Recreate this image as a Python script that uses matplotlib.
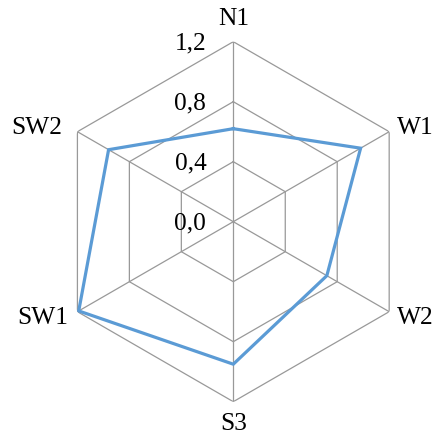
import numpy as np
import matplotlib.pyplot as plt

plt.rcParams['font.family'] = ['Liberation Serif', 'DejaVu Serif']

categories = ['N1', 'W1', 'W2', 'S3', 'SW1', 'SW2']
values = [0.62, 0.98, 0.72, 0.95, 1.19, 0.96]
rings = [0.4, 0.8, 1.2]
tick_labels = ['0,0', '0,4', '0,8', '1,2']
tick_values = [0.0, 0.4, 0.8, 1.2]

fig = plt.figure(figsize=(4.33, 4.37), dpi=100)
ax = fig.add_axes([0.1231, 0.0808, 0.8314, 0.8238], projection='polar')
ax.set_theta_zero_location('N')
ax.set_theta_direction(-1)
ax.set_ylim(0, 1.2)
ax.grid(False)
ax.spines['polar'].set_visible(False)
ax.set_xticks([])
ax.set_yticks([])
ax.patch.set_alpha(0)

theta = np.linspace(0, 2 * np.pi, len(categories), endpoint=False)
theta_c = np.append(theta, theta[0])

grid_col = '#999999'
for r in rings:
    ax.plot(theta_c, [r] * len(theta_c), color=grid_col, lw=0.9, zorder=1)
for t in theta:
    ax.plot([t, t], [0, 1.2], color=grid_col, lw=0.9, zorder=1)

ax.plot(theta_c, values + [values[0]], color='#5b9bd5', lw=2.3, zorder=3,
        solid_joinstyle='miter')

fs = 18.3
# category labels
offsets = [(0, 23, 'center'), (8, 4, 'left'), (8, -6, 'left'),
           (0, -22, 'center'), (-9, -6, 'right'), (-15, 4, 'right')]
for t, lab, (dx, dy, ha) in zip(theta, categories, offsets):
    ax.annotate(lab, xy=(t, 1.2), xytext=(dx, dy), textcoords='offset pixels',
                ha=ha, va='center', fontsize=fs, annotation_clip=False)

# radial tick labels
for v, lab in zip(tick_values, tick_labels):
    ax.annotate(lab, xy=(0, v), xytext=(-27, -2), textcoords='offset pixels',
                ha='right', va='center', fontsize=fs, annotation_clip=False)

fig.savefig('out.png', dpi=100)
